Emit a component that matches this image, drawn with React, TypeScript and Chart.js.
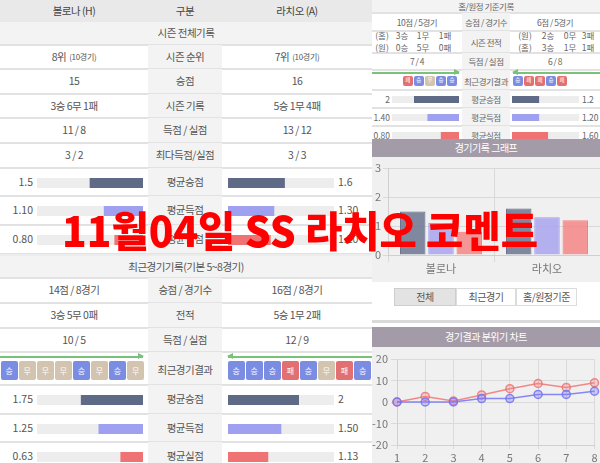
import React, { useEffect, useLayoutEffect, useRef, useState } from 'react';
import { Chart, registerables } from 'chart.js';
Chart.register(...registerables);

const FONT = '"Noto Sans CJK KR", "Noto Sans", sans-serif';
Chart.defaults.font.family = FONT;

// ---------------- data ----------------
const headerLabels = ['볼로나 (H)', '구분', '라치오 (A)'];
const seasonTitle = '시즌 전체기록';
const seasonCats = ['시즌 순위', '승점', '시즌 기록', '득점 / 실점', '최다득점/실점'];
const seasonHome = ['8위', '15', '3승 6무 1패', '11 / 8', '3 / 2'];
const seasonAway = ['7위', '16', '5승 1무 4패', '13 / 12', '3 / 3'];
const rankNote = '(10경기)';

const avgCats = ['평균승점', '평균득점', '평균실점'];
const seasonAvgHome = [1.5, 1.1, 0.8];
const seasonAvgHomeText = ['1.5', '1.10', '0.80'];
const seasonAvgAway = [1.6, 1.3, 1.2];
const seasonAvgAwayText = ['1.6', '1.30', '1.20'];

const recentTitle = '최근경기기록(기본 5~8경기)';
const recentCats = ['승점 / 경기수', '전적', '득점 / 실점'];
const recentHome = ['14점 / 8경기', '3승 5무 0패', '10 / 5'];
const recentAway = ['16점 / 8경기', '5승 1무 2패', '12 / 9'];
const resultsCat = '최근경기결과';
const recentResultsHome = ['승', '무', '무', '무', '승', '무', '승', '무'];
const recentResultsAway = ['승', '승', '승', '패', '승', '무', '패', '승'];
const recentAvgHome = [1.75, 1.25, 0.63];
const recentAvgHomeText = ['1.75', '1.25', '0.63'];
const recentAvgAway = [2, 1.5, 1.13];
const recentAvgAwayText = ['2', '1.50', '1.13'];

const haTitle = '홈/원정 기준기록';
const haCats = ['승점 / 경기수', '시즌 전적', '득점 / 실점'];
const haPoints = ['10점 / 5경기', '6점 / 5경기'];
const haRecordHome = [['(홈)', '3승', '1무', '1패'], ['(원)', '0승', '5무', '0패']];
const haRecordAway = [['(원)', '2승', '0무', '3패'], ['(홈)', '3승', '1무', '1패']];
const haGoals = ['7 / 4', '6 / 8'];
const haResultsHome = ['패', '승', '무', '승', '승'];
const haResultsAway = ['승', '패', '패', '승', '패'];
const haAvgHome = [2, 1.4, 0.8];
const haAvgHomeText = ['2', '1.40', '0.80'];
const haAvgAway = [1.2, 1.2, 1.6];
const haAvgAwayText = ['1.2', '1.20', '1.60'];

const avgMax = 3;

const graphTitle = '경기기록 그래프';
const graphCats = ['볼로나', '라치오'];
const graphAvgPoints = [1.5, 1.6];
const graphAvgScored = [1.1, 1.3];
const graphAvgConceded = [0.8, 1.2];
const tabLabels = ['전체', '최근경기', '홈/원정기준'];

const moodTitle = '경기결과 분위기 차트';
const moodLabels = ['1', '2', '3', '4', '5', '6', '7', '8'];
const moodHome = [0, 0, 0, 1.6, 1.6, 3.5, 3.5, 5];
const moodAway = [0, 2.6, 0.5, 3.3, 6.2, 8.6, 6.8, 8.9];

const overlayText = '11월04일 SS 라치오 코멘트';

// ---------------- styles ----------------
const AVG_COLORS = ['#5e6a86', '#a0a0f0', '#f07373'];
const BADGE_COLORS: Record<string, string> = { 승: '#7b8de2', 무: '#d3c4b0', 패: '#e27070' };
const MID_BG = '#f3f3f3';
const SEP = '#e2e2e2';

function Txt(props: any) {
  const { x, y, w, h, children, size = 10.5, color = '#555', align = 'center', bg, weight = 400, ls = -0.5, style = {} } = props;
  return (
    <div
      style={{
        position: 'absolute', left: x, top: y, width: w, height: h, display: 'flex', alignItems: 'center',
        justifyContent: align === 'center' ? 'center' : align === 'left' ? 'flex-start' : 'flex-end',
        fontSize: size, color, background: bg, fontWeight: weight, letterSpacing: ls, whiteSpace: 'nowrap',
        overflow: 'hidden', fontFamily: FONT, lineHeight: 1, ...style,
      }}
    >
      {children}
    </div>
  );
}

function Box({ x, y, w, h, bg, style = {} }: any) {
  return <div style={{ position: 'absolute', left: x, top: y, width: w, height: h, background: bg, ...style }} />;
}

function MiniBar({ x, y, w, h, value, color, reverse }: any) {
  const ref = useRef<HTMLCanvasElement>(null);
  useEffect(() => {
    const chart = new Chart(ref.current!, {
      type: 'bar',
      data: {
        labels: [''],
        datasets: [
          { data: [value], backgroundColor: color, barPercentage: 1, categoryPercentage: 1, grouped: false } as any,
          { data: [avgMax], backgroundColor: '#ededed', barPercentage: 1, categoryPercentage: 1, grouped: false } as any,
        ],
      },
      options: {
        indexAxis: 'y', responsive: false, animation: false, devicePixelRatio: 1,
        layout: { padding: 0 },
        plugins: { legend: { display: false }, tooltip: { enabled: false } },
        scales: { x: { display: false, min: 0, max: avgMax, reverse }, y: { display: false } },
      },
    });
    return () => chart.destroy();
  }, []);
  return <canvas ref={ref} width={w} height={h} style={{ position: 'absolute', left: x, top: y, width: w, height: h }} />;
}

function Badge({ x, y, w, h, r, size }: any) {
  return (
    <div style={{
      position: 'absolute', left: x, top: y, width: w, height: h, background: BADGE_COLORS[r], borderRadius: 2,
      color: '#fff', fontSize: size, fontFamily: FONT, display: 'flex', alignItems: 'center', justifyContent: 'center', lineHeight: 1,
    }}>{r}</div>
  );
}

function Arrow({ x1, x2, y, dir }: any) {
  const color = '#79c279';
  return (
    <>
      <Box x={x1} y={y} w={x2 - x1} h={1.5} bg={color} />
      {dir === 'right' ? (
        <div style={{ position: 'absolute', left: x2 - 5, top: y - 3, width: 0, height: 0, borderTop: '3.5px solid transparent', borderBottom: '3.5px solid transparent', borderLeft: `6px solid ${color}` }} />
      ) : (
        <div style={{ position: 'absolute', left: x1 - 1, top: y - 3, width: 0, height: 0, borderTop: '3.5px solid transparent', borderBottom: '3.5px solid transparent', borderRight: `6px solid ${color}` }} />
      )}
    </>
  );
}

// ---------------- left panel ----------------
const SEASON_ROWS = [[45, 69], [69, 94], [94, 118], [118, 143], [143, 168]];
const AVG1_ROWS = [[168, 196], [196, 225], [225, 254]];
const RECENT_ROWS = [[278, 303], [303, 328], [328, 352]];
const RES_ROW = [352, 385];
const AVG2_ROWS = [[385, 414], [414, 442], [442, 471]];

function AvgRowsL({ rows, hv, ht, av, at }: any) {
  return (
    <>
      {rows.map(([y0, y1]: number[], i: number) => {
        const c = (y0 + y1) / 2;
        return (
          <React.Fragment key={i}>
            <Box x={148} y={y0} w={74} h={y1 - y0} bg={MID_BG} />
            <Txt x={0} y={c - 7} w={33} h={14} align="right" ls={0}>{ht[i]}</Txt>
            <MiniBar x={37} y={Math.round(c - 4.5)} w={106} h={10} value={hv[i]} color={AVG_COLORS[i]} reverse />
            <Txt x={148} y={y0} w={74} h={y1 - y0}>{avgCats[i]}</Txt>
            <MiniBar x={228} y={Math.round(c - 4.5)} w={106} h={10} value={av[i]} color={AVG_COLORS[i]} reverse={false} />
            <Txt x={338} y={c - 7} w={34} h={14} align="left" ls={0}>{at[i]}</Txt>
            <Box x={0} y={y1 - 1} w={372} h={2} bg={SEP} />
          </React.Fragment>
        );
      })}
    </>
  );
}

function LeftPanel() {
  return (
    <>
      <Box x={0} y={0} w={372} h={22} bg="#e9e9e9" />
      <Txt x={0} y={0} w={148} h={22} color="#444">{headerLabels[0]}</Txt>
      <Txt x={148} y={0} w={74} h={22} color="#444">{headerLabels[1]}</Txt>
      <Txt x={222} y={0} w={150} h={22} color="#444">{headerLabels[2]}</Txt>
      <Txt x={0} y={22} w={372} h={23} bg={MID_BG}>{seasonTitle}</Txt>
      <Box x={0} y={44} w={372} h={2} bg={SEP} />
      {seasonCats.map((cat, i) => {
        const [y0, y1] = SEASON_ROWS[i];
        return (
          <React.Fragment key={i}>
            <Txt x={0} y={y0} w={148} h={y1 - y0}>
              {seasonHome[i]}{i === 0 ? <span style={{ fontSize: 8, marginLeft: 3, letterSpacing: -0.3 }}>{rankNote}</span> : null}
            </Txt>
            <Txt x={148} y={y0} w={74} h={y1 - y0} bg={MID_BG}>{cat}</Txt>
            <Txt x={222} y={y0} w={150} h={y1 - y0}>
              {seasonAway[i]}{i === 0 ? <span style={{ fontSize: 8, marginLeft: 3, letterSpacing: -0.3 }}>{rankNote}</span> : null}
            </Txt>
            <Box x={0} y={y1 - 1} w={372} h={2} bg={SEP} />
          </React.Fragment>
        );
      })}
      <AvgRowsL rows={AVG1_ROWS} hv={seasonAvgHome} ht={seasonAvgHomeText} av={seasonAvgAway} at={seasonAvgAwayText} />
      <Box x={0} y={254} w={372} h={2} bg="#ececec" />
      <Txt x={0} y={256} w={372} h={22} bg={MID_BG}>{recentTitle}</Txt>
      <Box x={0} y={277} w={372} h={2} bg={SEP} />
      {recentCats.map((cat, i) => {
        const [y0, y1] = RECENT_ROWS[i];
        return (
          <React.Fragment key={i}>
            <Txt x={0} y={y0} w={148} h={y1 - y0}>{recentHome[i]}</Txt>
            <Txt x={148} y={y0} w={74} h={y1 - y0} bg={MID_BG}>{cat}</Txt>
            <Txt x={222} y={y0} w={150} h={y1 - y0}>{recentAway[i]}</Txt>
            <Box x={0} y={y1 - 1} w={372} h={2} bg={SEP} />
          </React.Fragment>
        );
      })}
      <Box x={148} y={RES_ROW[0]} w={74} h={RES_ROW[1] - RES_ROW[0]} bg={MID_BG} />
      <Arrow x1={0} x2={143} y={356} dir="right" />
      <Arrow x1={228} x2={372} y={356} dir="left" />
      {recentResultsHome.map((r, i) => <Badge key={'h' + i} x={1 + i * 18.05} y={361} w={16.5} h={19} r={r} size={8} />)}
      <Txt x={148} y={RES_ROW[0] + 4} w={74} h={RES_ROW[1] - RES_ROW[0] - 4}>{resultsCat}</Txt>
      {recentResultsAway.map((r, i) => <Badge key={'a' + i} x={228 + i * 18.05} y={361} w={16.5} h={19} r={r} size={8} />)}
      <Box x={0} y={RES_ROW[1] - 1} w={372} h={2} bg={SEP} />
      <AvgRowsL rows={AVG2_ROWS} hv={recentAvgHome} ht={recentAvgHomeText} av={recentAvgAway} at={recentAvgAwayText} />
    </>
  );
}

// ---------------- right top panel ----------------
const HA_ROWS = [[13, 31], [31, 53], [53, 70]];
const HA_RES = [70, 90];
const HA_AVG = [[90, 108], [108, 126], [126, 144]];

function RightPanel() {
  const fs = 8.5;
  const col = '#666';
  return (
    <>
      <Box x={372} y={0} w={228} h={145} bg="#fff" />
      <Txt x={372} y={0} w={228} h={13} bg={MID_BG} size={fs} color={col}>{haTitle}</Txt>
      <Box x={372} y={12} w={228} h={1.5} bg={SEP} />
      {HA_ROWS.map(([y0, y1], i) => (
        <React.Fragment key={i}>
          <Txt x={462} y={y0} w={48} h={y1 - y0} bg={MID_BG} size={fs} color={col}>{haCats[i]}</Txt>
          <Box x={372} y={y1 - 1} w={228} h={1.5} bg={SEP} />
        </React.Fragment>
      ))}
      <Txt x={372} y={13} w={90} h={18} size={fs} color={col}>{haPoints[0]}</Txt>
      <Txt x={510} y={13} w={90} h={18} size={fs} color={col}>{haPoints[1]}</Txt>
      {haRecordHome.map((line, r) =>
        line.map((t, c) => (
          <Txt key={`rh${r}${c}`} x={[382, 402, 423, 445][c] - 10} y={[35, 47][r] - 6} w={20} h={12} size={fs} color={col} ls={0}>{t}</Txt>
        ))
      )}
      {haRecordAway.map((line, r) =>
        line.map((t, c) => (
          <Txt key={`ra${r}${c}`} x={[525, 548, 570, 588][c] - 10} y={[35, 47][r] - 6} w={20} h={12} size={fs} color={col} ls={0}>{t}</Txt>
        ))
      )}
      <Txt x={372} y={53} w={90} h={17} size={fs} color={col}>{haGoals[0]}</Txt>
      <Txt x={510} y={53} w={90} h={17} size={fs} color={col}>{haGoals[1]}</Txt>
      <Box x={462} y={HA_RES[0]} w={48} h={20} bg={MID_BG} />
      <Arrow x1={372} x2={459} y={72} dir="right" />
      <Arrow x1={513} x2={600} y={72} dir="left" />
      {haResultsHome.map((r, i) => <Badge key={'hh' + i} x={403 + i * 11.1} y={76} w={9.5} h={10} r={r} size={5.5} />)}
      <Txt x={462} y={72} w={48} h={18} size={fs} color={col}>{resultsCat}</Txt>
      {haResultsAway.map((r, i) => <Badge key={'ha' + i} x={513 + i * 11.1} y={76} w={9.5} h={10} r={r} size={5.5} />)}
      <Box x={372} y={89} w={228} h={1.5} bg={SEP} />
      {HA_AVG.map(([y0, y1], i) => {
        const c = (y0 + y1) / 2;
        return (
          <React.Fragment key={i}>
            <Box x={462} y={y0} w={48} h={y1 - y0} bg={MID_BG} />
            <Txt x={372} y={c - 6} w={18} h={12} align="right" size={fs} color={col} ls={0}>{haAvgHomeText[i]}</Txt>
            <MiniBar x={392} y={Math.round(c - 3.5)} w={67} h={7} value={haAvgHome[i]} color={AVG_COLORS[i]} reverse />
            <Txt x={462} y={y0} w={48} h={y1 - y0} size={fs} color={col}>{avgCats[i]}</Txt>
            <MiniBar x={512} y={Math.round(c - 3.5)} w={67} h={7} value={haAvgAway[i]} color={AVG_COLORS[i]} reverse={false} />
            <Txt x={582} y={c - 6} w={18} h={12} align="left" size={fs} color={col} ls={0}>{haAvgAwayText[i]}</Txt>
            <Box x={372} y={y1 - 1} w={228} h={1.5} bg={SEP} />
          </React.Fragment>
        );
      })}
    </>
  );
}

// ---------------- charts ----------------
function GraphChart() {
  const ref = useRef<HTMLCanvasElement>(null);
  useEffect(() => {
    const tickFont = { size: 11, family: FONT };
    const chart = new Chart(ref.current!, {
      type: 'bar',
      data: {
        labels: graphCats,
        datasets: [
          { label: '평균승점', data: graphAvgPoints, backgroundColor: 'rgba(100,110,140,0.8)', borderColor: 'rgba(90,100,130,0.9)', borderWidth: 1 },
          { label: '평균득점', data: graphAvgScored, backgroundColor: 'rgba(165,160,240,0.8)', borderColor: 'rgba(150,145,235,0.9)', borderWidth: 1 },
          { label: '평균실점', data: graphAvgConceded, backgroundColor: 'rgba(245,120,120,0.75)', borderColor: 'rgba(240,110,110,0.85)', borderWidth: 1 },
        ],
      },
      options: {
        responsive: false, animation: false, devicePixelRatio: 1,
        layout: { padding: { top: 11, left: 0, right: 0, bottom: 0 } },
        plugins: { legend: { display: false }, tooltip: { enabled: false } },
        scales: {
          x: {
            grid: { color: '#d9d9d9', tickLength: 7 },
            border: { color: '#cfcfcf' },
            ticks: { color: '#777', font: tickFont, padding: 0 },
            afterFit: (s: any) => { s.height = 27; },
          },
          y: {
            min: 0, max: avgMax,
            grid: { color: '#d9d9d9', tickLength: 5 },
            border: { color: '#cfcfcf' },
            ticks: { stepSize: 1, color: '#777', font: tickFont, padding: 2 },
            afterFit: (s: any) => { s.width = 16; },
          },
        },
      },
    });
    return () => chart.destroy();
  }, []);
  return <canvas ref={ref} width={228} height={125} style={{ position: 'absolute', left: 372, top: 157, width: 228, height: 125 }} />;
}

function MoodChart() {
  const ref = useRef<HTMLCanvasElement>(null);
  useEffect(() => {
    const tickFont = { size: 11, family: FONT };
    const chart = new Chart(ref.current!, {
      type: 'line',
      data: {
        labels: moodLabels,
        datasets: [
          {
            label: '볼로나', data: moodHome, borderColor: 'rgba(115,115,245,0.85)', backgroundColor: 'rgba(125,125,245,0.35)',
            borderWidth: 1.5, pointRadius: 4, pointBorderWidth: 1.5, tension: 0,
          },
          {
            label: '라치오', data: moodAway, borderColor: 'rgba(240,110,110,0.8)', backgroundColor: 'rgba(245,130,130,0.3)',
            borderWidth: 1.5, pointRadius: 4, pointBorderWidth: 1.5, tension: 0,
          },
        ],
      },
      options: {
        responsive: false, animation: false, devicePixelRatio: 1,
        layout: { padding: { top: 12, left: 0, right: 0, bottom: 0 } },
        plugins: { legend: { display: false }, tooltip: { enabled: false } },
        scales: {
          x: {
            grid: { color: '#dadada', tickLength: 4 },
            border: { color: '#d0d0d0' },
            ticks: { color: '#777', font: tickFont, padding: 2 },
            afterFit: (s: any) => { s.height = 20; },
          },
          y: {
            min: -20, max: 20,
            grid: { color: '#dadada', tickLength: 6 },
            border: { color: '#d0d0d0' },
            ticks: { stepSize: 10, color: '#777', font: tickFont, padding: 3 },
            afterFit: (s: any) => { s.width = 25; },
          },
        },
      },
    });
    return () => chart.destroy();
  }, []);
  return <canvas ref={ref} width={228} height={118} style={{ position: 'absolute', left: 372, top: 347, width: 228, height: 118 }} />;
}

function ChartPanels() {
  return (
    <>
      <Box x={372} y={139} w={228} h={324} bg="#fff" />
      <Txt x={372} y={139} w={228} h={18} bg="#a49ba9" color="#fff" size={10}>{graphTitle}</Txt>
      <Box x={372} y={157} w={228} h={125} bg="#f0f0f0" />
      <GraphChart />
      {tabLabels.map((t, i) => {
        const xs = [394, 456, 516, 577];
        return (
          <Txt key={t} x={xs[i]} y={288} w={xs[i + 1] - xs[i]} h={18} size={10} color="#555"
            bg={i === 0 ? '#e3e3e3' : '#fff'}
            style={{ border: `1px solid ${i === 0 ? '#cdcdcd' : '#dcdcdc'}`, boxSizing: 'border-box' }}>{t}</Txt>
        );
      })}
      <Box x={372} y={320} w={228} h={2.5} bg="#dadada" />
      <Txt x={372} y={327} w={228} h={20} bg="#a49ba9" color="#fff" size={10}>{moodTitle}</Txt>
      <Box x={372} y={347} w={228} h={116} bg="#f0f0f0" />
      <MoodChart />
    </>
  );
}

function Overlay() {
  const ref = useRef<HTMLDivElement>(null);
  const [sx, setSx] = useState(1);
  useLayoutEffect(() => {
    const measure = () => {
      const w = ref.current ? ref.current.offsetWidth : 0;
      if (w > 0) setSx(476 / w);
    };
    measure();
    if ((document as any).fonts && (document as any).fonts.ready) (document as any).fonts.ready.then(measure);
  }, []);
  return (
    <div
      ref={ref}
      style={{
        position: 'absolute', left: 62, top: 208, fontFamily: FONT, fontWeight: 900, fontSize: 42, lineHeight: '42px',
        color: '#ff0000', whiteSpace: 'nowrap', transform: `scaleX(${sx})`, transformOrigin: 'left center', zIndex: 20,
      }}
    >
      {overlayText}
    </div>
  );
}

export default function App() {
  return (
    <div style={{ position: 'absolute', left: 0, top: 0, width: 600, height: 463, overflow: 'hidden', background: '#fff', fontFamily: FONT }}>
      <LeftPanel />
      <RightPanel />
      <ChartPanels />
      <Overlay />
    </div>
  );
}
